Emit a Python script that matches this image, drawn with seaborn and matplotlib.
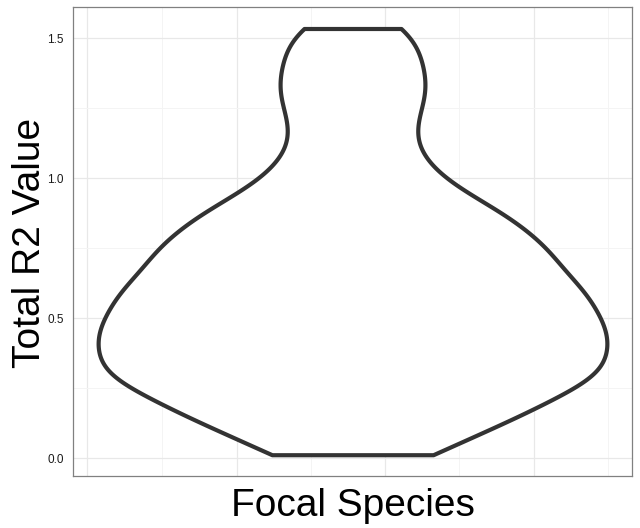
import numpy as np
import pandas as pd
import matplotlib
matplotlib.use("Agg")
import matplotlib.pyplot as plt
import seaborn as sns

# Total R2 values (estimated from the violin outline)
total_r2 = [0.013, 0.04, 0.15, 0.15, 0.15, 0.20, 0.28, 0.28,
            0.29, 0.29, 0.31, 0.38, 0.39, 0.40, 0.42, 0.45,
            0.48, 0.50, 0.51, 0.54, 0.59, 0.61, 0.61, 0.62,
            0.68, 0.72, 0.74, 0.76, 0.77, 0.86, 0.87, 0.87,
            0.96, 1.01, 1.10, 1.20, 1.29, 1.36, 1.45, 1.535]
y_ticks = [0.0, 0.5, 1.0, 1.5]
y_tick_labels = ["0.0", "0.5", "1.0", "1.5"]
x_label = "Focal Species"
y_label = "Total R2 Value"

df = pd.DataFrame({"Total R2 Value": total_r2})

fig = plt.figure(figsize=(6.4, 5.28), dpi=100)
ax = fig.add_axes([72.7 / 640, 52 / 528, 559.6 / 640, 468.7 / 528])
ax.set_facecolor("white")
ax.set_axisbelow(True)

sns.violinplot(data=df, y="Total R2 Value", ax=ax, cut=0, bw_method=0.22,
               inner=None, color="white", linecolor="#333333", linewidth=3,
               width=1, gridsize=400, saturation=1)
for c in ax.collections:
    c.set_zorder(3)

# axes limits / grid (ggplot-like theme_bw)
ax.set_xlim(-0.55, 0.55)
ax.set_ylim(-0.063, 1.6107)
ax.set_xticks([-0.521, -0.228, 0.0645, 0.356])
ax.set_xticks([-0.375, -0.082, 0.210, 0.502], minor=True)
ax.set_xticklabels([])
ax.set_yticks(y_ticks)
ax.set_yticklabels(y_tick_labels)
ax.set_yticks([0.25, 0.75, 1.25], minor=True)
ax.grid(True, which="major", axis="both", color="#E8E8E8", linewidth=0.9)
ax.grid(True, which="minor", axis="both", color="#F4F4F4", linewidth=0.7)
ax.tick_params(axis="both", which="both", length=0)
ax.tick_params(axis="y", which="major", pad=6.3, labelsize=8.5, labelcolor="#1a1a1a")
for lab in ax.get_yticklabels():
    lab.set_family("Liberation Sans")
for s in ax.spines.values():
    s.set_color("#808080")
    s.set_linewidth(0.9)
    s.set_visible(True)

ax.set_xlabel(x_label, fontsize=28, family="Liberation Sans", color="black")
ax.set_ylabel(y_label, fontsize=28, family="Liberation Sans", color="black")
ax.xaxis.label.set_va("baseline")
ax.xaxis.set_label_coords(0.5, (12 - 52) / 468.7)
ax.yaxis.label.set_va("baseline")
ax.yaxis.set_label_coords((40.5 - 72.7) / 559.6, 0.497)

fig.savefig("out.png", dpi=100, facecolor="white")
